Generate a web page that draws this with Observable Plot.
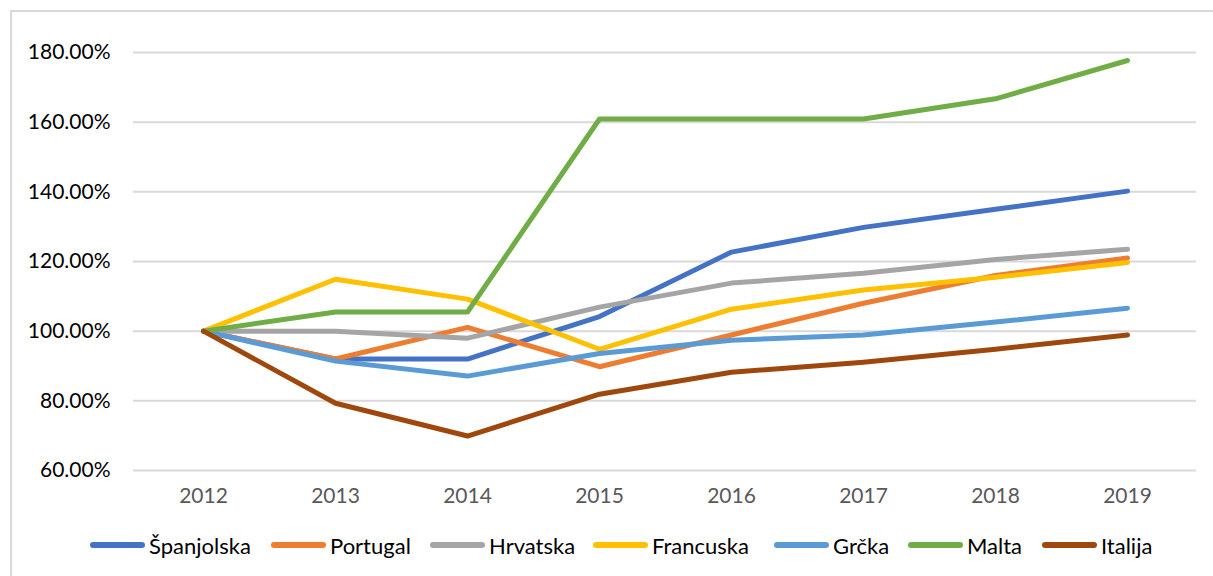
<!DOCTYPE html>
<html>
<head>
<meta charset="utf-8">
<script src="https://cdn.jsdelivr.net/npm/d3@7"></script>
<script src="https://cdn.jsdelivr.net/npm/@observablehq/plot@0.6"></script>
<style>
  html, body { margin: 0; padding: 0; background: #fff; }
  #wrap { position: relative; width: 1213px; height: 576px; overflow: hidden; font-family: Lato, "Open Sans", sans-serif; }
  #frame { position: absolute; left: 10px; top: 10px; width: 1300px; height: 700px; border-left: 2px solid #d9d9d9; border-top: 2px solid #d9d9d9; }
  #chart { position: absolute; left: 0; top: 0; }
  #legend { position: absolute; left: 0; top: 531px; width: 1213px; height: 28px; }
  .item { position: absolute; top: 0; display: flex; align-items: center; height: 28px; font-size: 22px; color: #000; }
  .sw { width: 55px; height: 6px; border-radius: 3px; margin-right: 4px; }
</style>
</head>
<body>
<div id="wrap">
  <div id="frame"></div>
  <div id="chart"></div>
  <div id="legend"></div>
</div>
<script>
const years = ["2012","2013","2014","2015","2016","2017","2018","2019"];
const seriesNames = ["Španjolska","Portugal","Hrvatska","Francuska","Grčka","Malta","Italija"];
const seriesColors = ["#4472C4","#ED7D31","#A5A5A5","#FFC000","#5B9BD5","#70AD47","#9E480E"];
const spanjolska = [100, 92, 92, 104.2, 122.7, 129.8, 135, 140.2];
const portugal   = [100, 92, 101.1, 89.8, 98.9, 108, 116, 121];
const hrvatska   = [100, 100, 98, 106.9, 113.8, 116.6, 120.6, 123.5];
const francuska  = [100, 114.9, 109.2, 94.8, 106.3, 111.8, 115.5, 119.7];
const grcka      = [100, 91.4, 87.1, 93.6, 97.4, 98.9, 102.6, 106.6];
const malta      = [100, 105.5, 105.5, 160.9, 160.9, 160.9, 166.7, 177.7];
const italija    = [100, 79.3, 69.9, 81.9, 88.2, 91.1, 94.8, 98.9];
const yTicks = [60, 80, 100, 120, 140, 160, 180];

const seriesValues = [spanjolska, portugal, hrvatska, francuska, grcka, malta, italija];
const rows = [];
seriesNames.forEach((name, i) => {
  years.forEach((yr, j) => rows.push({series: name, year: yr, value: seriesValues[i][j]}));
});

const chart = Plot.plot({
  width: 1213,
  height: 510,
  marginLeft: 133,
  marginRight: 17,
  marginTop: 52,
  marginBottom: 40,
  style: { fontFamily: "Lato, 'Open Sans', sans-serif", fontSize: "20px", background: "transparent", overflow: "visible" },
  x: { type: "point", domain: years, padding: 0.5, label: null },
  y: { domain: [60, 180], label: null },
  color: { domain: seriesNames, range: seriesColors },
  marks: [
    Plot.ruleY(yTicks, { stroke: "#d9d9d9", strokeWidth: 2 }),
    Plot.axisY({ ticks: yTicks, tickSize: 0, tickPadding: 23, tickFormat: d => d.toFixed(2) + "%", fill: "#000", fontSize: 21, label: null }),
    Plot.axisX({ tickSize: 0, tickPadding: 18, fill: "#595959", fontSize: 21, label: null }),
    Plot.line(rows, { x: "year", y: "value", z: "series", stroke: "series", strokeWidth: 5, strokeLinecap: "round", strokeLinejoin: "round" })
  ]
});
document.getElementById("chart").appendChild(chart);

const legendX = [90, 271, 430, 593, 774, 908, 1042];
const legend = document.getElementById("legend");
seriesNames.forEach((name, i) => {
  const it = document.createElement("div");
  it.className = "item";
  it.style.left = legendX[i] + "px";
  const sw = document.createElement("div");
  sw.className = "sw";
  sw.style.background = seriesColors[i];
  const tx = document.createElement("span");
  tx.textContent = name;
  it.appendChild(sw);
  it.appendChild(tx);
  legend.appendChild(it);
});
</script>
</body>
</html>
